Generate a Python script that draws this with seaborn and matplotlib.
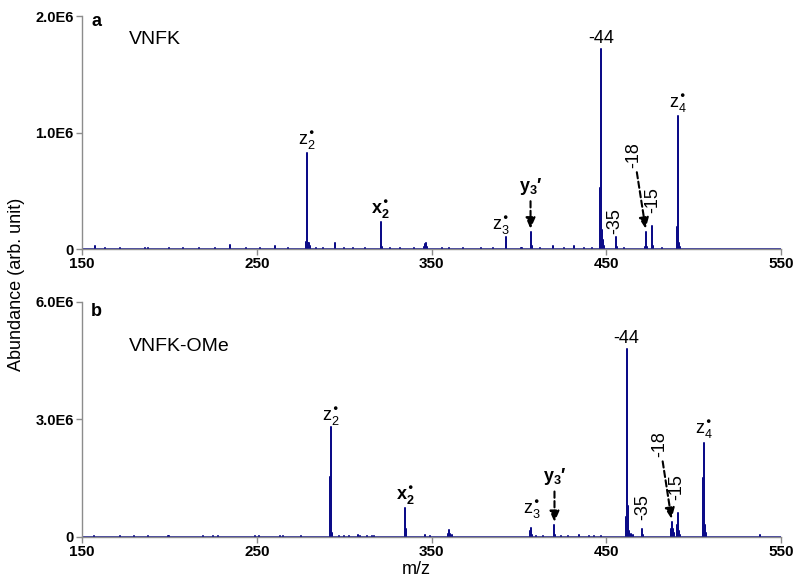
import numpy as np
import pandas as pd
import matplotlib
matplotlib.use("Agg")
import matplotlib.pyplot as plt
import seaborn as sns
from matplotlib.ticker import FuncFormatter

# ---- datos leidos del espectro (m/z, abundancia) ----
# panel a: VNFK
mz_a = [157.5, 163, 172, 186, 188, 200, 208, 217, 226, 234.6, 244, 252, 260.4, 268,
        278.3, 278.7, 279.3, 280.0, 280.5, 284, 288, 294.6, 300, 305, 312,
        320.9, 321.5, 326, 332, 340, 345.5, 346.2, 346.8, 347.3, 356, 360, 368, 378, 385,
        392.3, 392.8, 401, 402, 406.6, 407.2, 412, 419.7, 426, 431.7, 437, 442,
        446.3, 446.6, 446.9, 447.4, 448.0, 448.6, 455.6, 456.2, 460,
        472.0, 472.7, 473.3, 475.9, 476.5, 482,
        490.3, 490.7, 491.3, 492.0, 498]
ab_a = [0.025, 0.008, 0.008, 0.01, 0.01, 0.006, 0.006, 0.006, 0.006, 0.035, 0.006, 0.006, 0.03, 0.006,
        0.06, 0.82, 0.05, 0.05, 0.03, 0.01, 0.008, 0.05, 0.01, 0.006, 0.006,
        0.23, 0.02, 0.006, 0.006, 0.006, 0.02, 0.04, 0.05, 0.02, 0.008, 0.006, 0.006, 0.006, 0.006,
        0.10, 0.01, 0.01, 0.01, 0.15, 0.03, 0.006, 0.025, 0.008, 0.03, 0.01, 0.006,
        0.10, 0.52, 1.72, 0.16, 0.08, 0.03, 0.105, 0.015, 0.006,
        0.02, 0.15, 0.02, 0.20, 0.03, 0.006,
        0.19, 1.14, 0.05, 0.02, 0.004]

# panel b: VNFK-OMe
mz_b = [157, 172, 180, 188, 199, 200, 210, 219, 225, 228, 249, 251, 263, 265, 275,
        291.9, 292.2, 292.7, 293.3, 297, 300, 303, 308, 309, 313, 316, 317,
        334.7, 335.0, 335.5, 346, 349, 359.5, 360.0, 360.6, 361.5, 380, 395,
        406.2, 406.6, 407.2, 410, 414, 420.3, 420.8, 424, 428, 434.6, 440, 443, 447,
        461.3, 461.6, 462.0, 462.4, 463.0, 464.0, 465.0, 470.6, 471.1,
        487.0, 487.5, 488.1, 488.7, 490.4, 491.0, 491.5, 492.0,
        505.0, 505.3, 505.6, 506.0, 506.5, 507.0, 538]
ab_b = [0.02, 0.015, 0.015, 0.015, 0.02, 0.02, 0.01, 0.015, 0.015, 0.015, 0.015, 0.02, 0.02, 0.03, 0.015,
        1.54, 2.80, 0.36, 0.10, 0.015, 0.015, 0.02, 0.06, 0.03, 0.015, 0.02, 0.015,
        0.45, 0.75, 0.20, 0.05, 0.015, 0.08, 0.18, 0.08, 0.05, 0.01, 0.01,
        0.15, 0.23, 0.05, 0.015, 0.015, 0.31, 0.05, 0.015, 0.015, 0.06, 0.015, 0.015, 0.015,
        0.50, 4.80, 3.00, 0.80, 0.15, 0.08, 0.04, 0.20, 0.05,
        0.20, 0.39, 0.20, 0.10, 0.30, 0.60, 0.15, 0.05,
        1.05, 1.50, 2.41, 1.50, 0.30, 0.10, 0.04]

# etiquetas de fragmentos: (texto, m/z del pico, negrita)
frag_a = [(r'z$_2^{•}$', 278.7, False), (r'x$_2^{•}$', 320.9, True), (r'z$_3^{•}$', 392.3, False),
          (r'y$_3$′', 406.6, True), ('-44', 446.9, False), ('-35', 455.6, False),
          ('-18', 472.7, False), ('-15', 475.9, False), (r'z$_4^{•}$', 490.7, False)]
frag_b = [(r'z$_2^{•}$', 292.2, False), (r'x$_2^{•}$', 335.0, True), (r'z$_3^{•}$', 406.6, False),
          (r'y$_3$′', 420.3, True), ('-44', 461.6, False), ('-35', 470.6, False),
          ('-18', 487.5, False), ('-15', 491.0, False), (r'z$_4^{•}$', 505.6, False)]

# desplazamientos (px) y estilo de cada etiqueta: dx, dy, rotacion, flecha
offs_a = [(0, 2, 0, False), (0, 2, 0, False), (-5, 1, 0, False), (0, 35, 0, True), (0, 2, 0, False),
          (-1, 3, 90, False), (-12, 64, 90, True), (1, 13, 90, False), (0, 2, 0, False)]
offs_b = [(0, 0, 0, False), (0, 2, 0, False), (1, 8, 0, False), (0, 38, 0, True), (0, 2, 0, False),
          (0, 9, 90, False), (-12, 65, 90, True), (-1, 13, 90, False), (0, 3, 0, False)]

XMIN, XMAX = 150, 550
color_linea = '#0c0c88'

sns.set_style("white")
plt.rcParams['font.family'] = ['Liberation Sans', 'DejaVu Sans']
plt.rcParams['mathtext.default'] = 'regular'
plt.rcParams['text.color'] = 'black'
plt.rcParams['xtick.color'] = 'black'
plt.rcParams['ytick.color'] = 'black'


def espectro(mz, ab):
    # espectro de barras: cada pico sube desde la linea base y vuelve a cero
    xs, ys = [XMIN], [0.0]
    for m, a in sorted(zip(mz, ab)):
        xs += [m, m, m]
        ys += [0.0, a * 1e6, 0.0]
    xs.append(XMAX)
    ys.append(0.0)
    return pd.DataFrame({'mz': xs, 'abund': ys})


def fmt_e6(v, pos):
    return '0' if v == 0 else f'{v / 1e6:.1f}E6'


def panel(ax, mz, ab, ymax, frags, offs, letra, nombre, y_letra, y_nombre):
    sns.lineplot(data=espectro(mz, ab), x='mz', y='abund', sort=False, estimator=None,
                 color=color_linea, lw=1.1, ax=ax)
    ax.set_xlim(XMIN, XMAX)
    ax.set_ylim(0, ymax)
    ax.set_xticks([150, 250, 350, 450, 550])
    ax.set_yticks([0, ymax / 2, ymax])
    ax.yaxis.set_major_formatter(FuncFormatter(fmt_e6))
    ax.set_xlabel('')
    ax.set_ylabel('')
    for s in ['top', 'right']:
        ax.spines[s].set_visible(False)
    for s in ['left', 'bottom']:
        ax.spines[s].set_color('#8c8c8c')
        ax.spines[s].set_linewidth(1.0)
    ax.tick_params(bottom=True, left=True, direction='out', length=4, width=1,
                   color='#8c8c8c', labelcolor='black', pad=2)
    for t in ax.get_xticklabels():
        t.set_fontweight('bold')
        t.set_fontsize(11)
    for t in ax.get_yticklabels():
        t.set_fontweight('bold')
        t.set_fontsize(10.5)

    picos = dict(zip(mz, ab))
    for (txt, m, negrita), (dx, dy, rot, flecha) in zip(frags, offs):
        y = picos[m] * 1e6
        props = None
        if flecha:
            props = dict(arrowstyle='-|>,head_length=0.5,head_width=0.22', ls=(0, (3, 1.6)),
                         lw=1.5, color='black', shrinkA=1, shrinkB=2)
        ax.annotate(txt, xy=(m, y), xytext=(dx, dy), textcoords='offset pixels',
                    ha='center', va='bottom', rotation=rot, fontsize=13, color='black',
                    fontweight='bold' if negrita else 'normal', arrowprops=props)

    ax.text(0.013, y_letra, letra, transform=ax.transAxes, fontsize=13, fontweight='bold',
            va='baseline', ha='left')
    ax.text(0.067, y_nombre, nombre, transform=ax.transAxes, fontsize=14, va='baseline', ha='left')


fig = plt.figure(figsize=(8, 5.84), dpi=100)
ax_a = fig.add_axes([0.1025, 0.5736, 0.874, 0.399])
ax_b = fig.add_axes([0.1025, 0.0805, 0.874, 0.4024])

panel(ax_a, mz_a, ab_a, 2e6, frag_a, offs_a, 'a', 'VNFK', 0.957, 0.88)
panel(ax_b, mz_b, ab_b, 6e6, frag_b, offs_b, 'b', 'VNFK-OMe', 0.940, 0.791)

fig.text(0.021, 1 - 284 / 584, 'Abundance (arb. unit)', rotation=90, fontsize=13,
         ha='center', va='center')
fig.text(416 / 800, 1 - 569 / 584, 'm/z', fontsize=13, ha='center', va='center')

fig.savefig('out.png', dpi=100)
